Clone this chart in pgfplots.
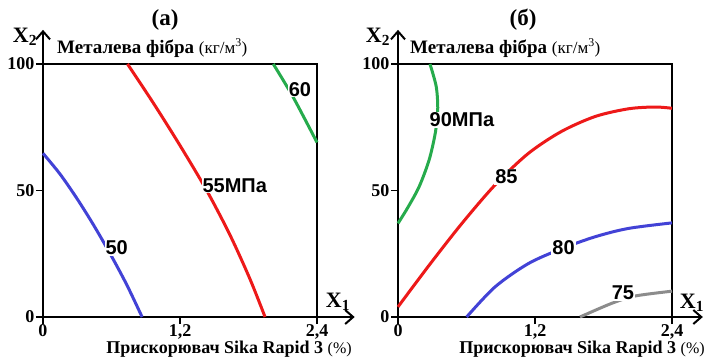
\documentclass[border=0pt]{standalone}
\usepackage{fontspec}
\setmainfont{Liberation Serif}
\newfontfamily\arialfont{Liberation Sans}
\usepackage{pgfplots}
\pgfplotsset{compat=1.18}
\usetikzlibrary{arrows.meta}
\definecolor{cblue}{rgb}{0.26,0.26,0.84}
\definecolor{cred}{rgb}{0.93,0.1,0.1}
\definecolor{cgreen}{rgb}{0.15,0.67,0.3}
\definecolor{cgray}{rgb}{0.55,0.55,0.55}
\pgfplotsset{myax/.style={
  width=274pt, height=253pt, scale only axis,
  xmin=0,xmax=2.4,ymin=0,ymax=100,
  xtick={0,1.2,2.4}, xticklabels={0,{1,2},{2,4}},
  ytick={0,50,100}, yticklabels={0,50,100},
  tick pos=left, tick align=outside, major tick length=7pt,
  axis line style={line width=2.2pt},
  every tick/.style={black,line width=1.4pt},
  ticklabel style={font=\bfseries\fontsize{18}{18}\selectfont},
  xticklabel style={yshift=3pt},
  yticklabel style={xshift=2pt},
  clip=false, anchor=south west,
  every axis plot/.append style={line width=3pt, smooth, no markers},
}}
\tikzset{lab/.style={font=\arialfont\bfseries\fontsize{20}{20}\selectfont, fill=white, inner sep=1pt},
  arr/.style={line width=2pt, -{Straight Barb[length=8pt,width=14pt,line width=2pt]}}}
\begin{document}
\begin{tikzpicture}
\useasboundingbox (0,0) rectangle (709pt,359pt);
% (a)
\begin{axis}[myax, at={(43pt,42pt)}]
\draw[arr] (axis cs:0,0) -- (axis cs:2.73,0);
\draw[arr] (axis cs:0,0) -- (axis cs:0,113.5);
\addplot[cblue] coordinates {(0,64.7) (0.149,56.5) (0.295,47.0) (0.441,36.5) (0.587,25.1) (0.733,12.8) (0.868,0)};
\addplot[cred] coordinates {(0.74,100) (0.966,84.6) (1.2,67.8) (1.434,50.0) (1.638,32.4) (1.813,15.0) (1.945,0)};
\addplot[cgreen] coordinates {(2.017,100) (2.19,87) (2.4,69)};
\node[lab] at (axis cs:0.645,27.5) {50};
\node[lab] at (axis cs:1.68,52) {55МПа};
\node[lab] at (axis cs:2.25,90) {60};
\end{axis}
% (b)
\begin{axis}[myax, at={(398pt,42pt)}]
\draw[arr] (axis cs:0,0) -- (axis cs:2.67,0);
\draw[arr] (axis cs:0,0) -- (axis cs:0,113.5);
\addplot[cgreen] coordinates {(0.28,100) (0.335,91) (0.348,81.8) (0.326,72.6) (0.272,62) (0.185,51.5) (0.085,43.2) (0,37)};
\addplot[cred] coordinates {(0,4) (0.27,20.3) (0.56,37.0) (0.85,52.2) (1.14,64.6) (1.43,73.3) (1.73,79.3) (2.02,82.3) (2.25,83.0) (2.4,82.5)};
\addplot[cblue] coordinates {(0.601,0) (0.85,11.9) (1.141,21.1) (1.434,27) (1.726,31.7) (2.017,35) (2.4,37.2)};
\addplot[cgray] coordinates {(1.594,0) (1.872,5.4) (2.077,8.3) (2.4,10.2)};
\node[lab] at (axis cs:0.56,78) {90МПа};
\node[lab] at (axis cs:0.95,55.5) {85};
\node[lab] at (axis cs:1.45,27.5) {80};
\node[lab] at (axis cs:1.97,9.5) {75};
\end{axis}
% texts
\foreach \xx/\tt in {165/а, 523/б} {
  \node[font=\bfseries\fontsize{23}{23}\selectfont] at (\xx pt,339pt) {(\tt)};
}
\foreach \xx in {25,378} {
  \node[font=\bfseries\fontsize{22}{22}\selectfont] at (\xx pt,322pt) {X\textsubscript{2}};
}
\node[font=\bfseries\fontsize{22}{22}\selectfont] at (338pt,57pt) {X\textsubscript{1}};
\node[font=\bfseries\fontsize{22}{22}\selectfont] at (692pt,56pt) {X\textsubscript{1}};
\foreach \xx in {57,410} {
  \node[anchor=west, inner sep=0pt] at (\xx pt,311pt) {\fontsize{19}{19}\selectfont\bfseries Металева фібра \mdseries\fontsize{17}{17}\selectfont(кг/м\textsuperscript{3})};
}
\foreach \xx in {229,582} {
  \node[inner sep=0pt] at (\xx pt,10pt) {\fontsize{18}{18}\selectfont\bfseries Прискорювач Sika Rapid 3 \mdseries\fontsize{16}{16}\selectfont(\%)};
}
\end{tikzpicture}
\end{document}
